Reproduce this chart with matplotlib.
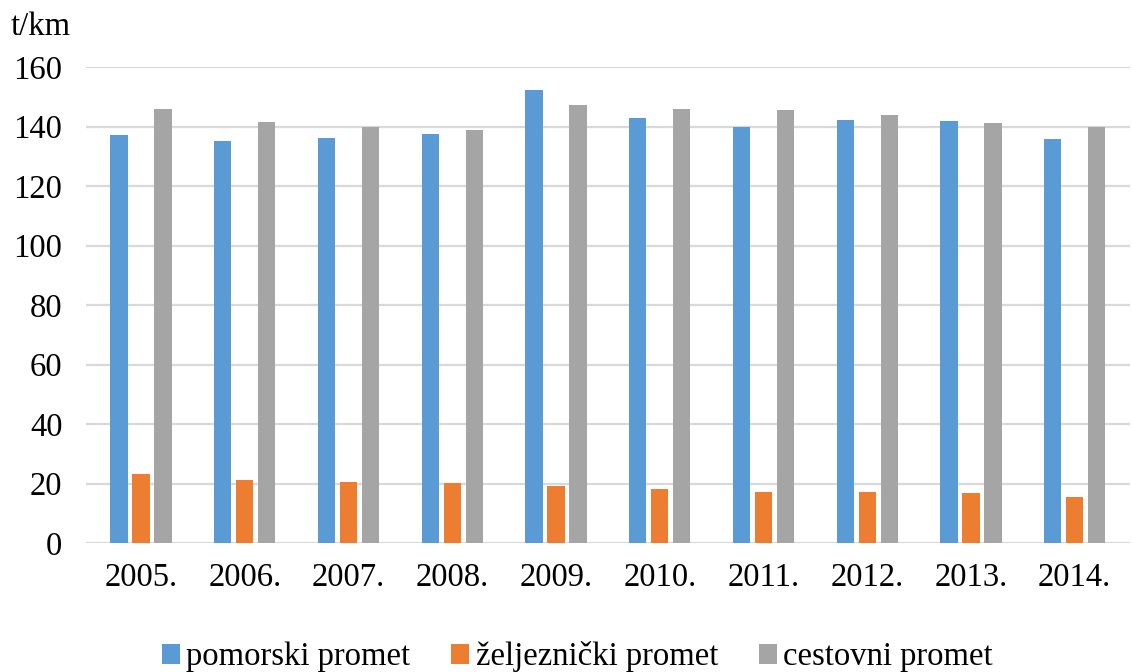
import numpy as np
import matplotlib.pyplot as plt
from matplotlib.patches import Patch

# podaci
godine = ["2005.", "2006.", "2007.", "2008.", "2009.", "2010.", "2011.", "2012.", "2013.", "2014."]
pomorski = [137.3, 135.1, 136.1, 137.5, 152.3, 142.9, 139.9, 142.3, 141.8, 135.9]
zeljeznicki = [23.1, 21.2, 20.5, 20.3, 19.3, 18.0, 17.3, 17.0, 16.7, 15.4]
cestovni = [145.9, 141.7, 139.8, 138.9, 147.3, 146.0, 145.7, 143.8, 141.1, 139.8]

serije = ["pomorski promet", "željeznički promet", "cestovni promet"]
boje = ["#5B9BD5", "#ED7D31", "#A5A5A5"]

plt.rcParams["font.family"] = ["Liberation Serif", "DejaVu Serif"]

fig = plt.figure(figsize=(11.32, 6.72), dpi=100)
ax = fig.add_axes([0.076, 0.192, 0.922, 0.708])

x = np.arange(len(godine))
sirina = 0.168
korak = 0.212
for i, (vrijednosti, boja) in enumerate(zip([pomorski, zeljeznicki, cestovni], boje)):
    ax.bar(x + (i - 1) * korak, vrijednosti, sirina, color=boja, zorder=3)

ax.set_xlim(-0.53, len(godine) - 0.47)
ax.set_ylim(0, 160)
ax.set_yticks(range(0, 161, 20))
ax.set_xticks(x)
ax.set_xticklabels(godine)
ax.grid(axis="y", color="#D9D9D9", linewidth=1.6, zorder=0)
for s in ax.spines.values():
    s.set_visible(False)
ax.tick_params(axis="both", length=0, labelsize=23.5)
ax.tick_params(axis="x", pad=14)
ax.tick_params(axis="y", pad=17)

fig.text(0.009, 0.96, "t/km", fontsize=23.5, ha="left", va="center")

rucke = [Patch(facecolor=b, edgecolor="none") for b in boje]
fig.legend(rucke, serije, loc="center", bbox_to_anchor=(0.51, 1 - 657 / 672),
           ncol=3, frameon=False, fontsize=23.5, handlelength=0.55, handleheight=0.55,
           handletextpad=0.2, columnspacing=1.25)

fig.savefig("out.png", dpi=100)
